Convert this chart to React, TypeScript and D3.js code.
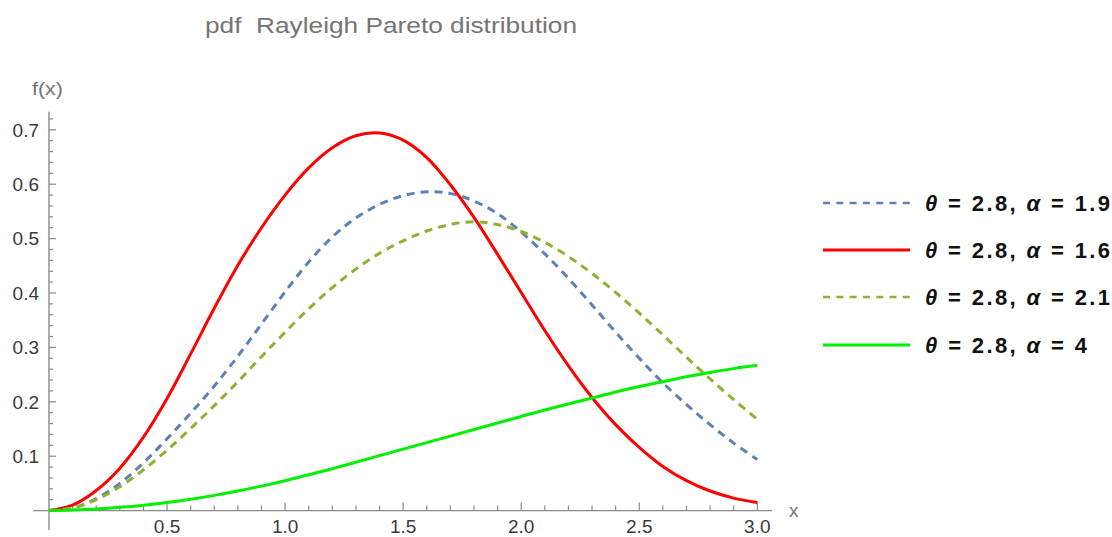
import React from "react";
import * as d3 from "d3";

const xs = [0, 0.1, 0.2, 0.3, 0.4, 0.5, 0.6, 0.7, 0.8, 0.9, 1.0, 1.1, 1.2, 1.3, 1.4, 1.5, 1.6, 1.7, 1.8, 1.9, 2.0, 2.1, 2.2, 2.3, 2.4, 2.5, 2.6, 2.7, 2.8, 2.9, 3.0];

// theta = 2.8, alpha = 1.9 (dashed blue)
const seriesA19 = [0, 0.005, 0.022, 0.050, 0.088, 0.132, 0.179, 0.229, 0.284, 0.343, 0.402, 0.457, 0.503, 0.538, 0.563, 0.579, 0.586, 0.583, 0.569, 0.546, 0.512, 0.472, 0.427, 0.378, 0.328, 0.280, 0.235, 0.195, 0.158, 0.124, 0.094];
// theta = 2.8, alpha = 1.6 (solid red)
const seriesA16 = [0, 0.010, 0.037, 0.078, 0.135, 0.206, 0.288, 0.372, 0.451, 0.520, 0.580, 0.630, 0.667, 0.689, 0.694, 0.681, 0.649, 0.599, 0.539, 0.471, 0.401, 0.331, 0.266, 0.208, 0.158, 0.116, 0.081, 0.055, 0.036, 0.023, 0.015];
// theta = 2.8, alpha = 2.1 (dashed green)
const seriesA21 = [0, 0.005, 0.020, 0.044, 0.075, 0.111, 0.151, 0.193, 0.237, 0.283, 0.328, 0.371, 0.410, 0.444, 0.473, 0.496, 0.514, 0.526, 0.531, 0.526, 0.513, 0.493, 0.467, 0.436, 0.401, 0.363, 0.323, 0.282, 0.242, 0.204, 0.168];
// theta = 2.8, alpha = 4 (solid bright green)
const seriesA4 = [0, 0.001, 0.003, 0.006, 0.010, 0.015, 0.021, 0.028, 0.036, 0.045, 0.055, 0.066, 0.077, 0.089, 0.101, 0.113, 0.125, 0.137, 0.149, 0.161, 0.173, 0.185, 0.196, 0.207, 0.218, 0.228, 0.237, 0.246, 0.254, 0.261, 0.267];

const xTickLabels = ["0.5", "1.0", "1.5", "2.0", "2.5", "3.0"];
const yTickLabels = ["0.1", "0.2", "0.3", "0.4", "0.5", "0.6", "0.7"];
const legendAlphas = ["1.9", "1.6", "2.1", "4"];
const titleText = "pdf  Rayleigh Pareto distribution";

const seriesList = [
  { values: seriesA19, color: "#5E81B5", dash: "8,6", width: 3, lw: 2.5 },
  { values: seriesA16, color: "#FF0000", dash: null, width: 3, lw: 3.2 },
  { values: seriesA21, color: "#8FB032", dash: "8,6", width: 3, lw: 2.5 },
  { values: seriesA4, color: "#00F000", dash: null, width: 3, lw: 3.2 },
];

export default function App() {
  const W = 1112, H = 537;
  const x = d3.scaleLinear().domain([0, 3]).range([49, 757.3]);
  const y = d3.scaleLinear().domain([0, 0.7]).range([510.6, 129.8]);
  const line = d3
    .line<number>()
    .x((_, i) => x(xs[i]))
    .y((v) => y(v))
    .curve(d3.curveCatmullRom.alpha(0.5));

  const axisColor = "#8a8a8a";
  const labelColor = "#3a3a3a";
  const font = "'Liberation Sans', Arial, sans-serif";

  const xMinor = d3.range(1, 31).map((i) => i / 10);
  const yMinor = d3.range(1, 37).map((i) => i / 50);

  const legendRowsY = [203, 250, 297, 345];
  const legendWidths = [185, 185, 185, 162];

  return (
    <div style={{ position: "absolute", left: 0, top: 0 }}>
      <svg width={W} height={H} style={{ display: "block", background: "#fff" }}>
        {/* title */}
        <text x={205} y={33} fontFamily={font} fontSize={22} fill="#757575" textLength={372} lengthAdjust="spacingAndGlyphs" style={{ whiteSpace: "pre" }}>
          {titleText}
        </text>

        {/* axes */}
        <line x1={33} x2={772} y1={y(0)} y2={y(0)} stroke={axisColor} strokeWidth={1.4} />
        <line x1={x(0)} x2={x(0)} y1={y(0.733)} y2={530} stroke={axisColor} strokeWidth={1.4} />

        {xMinor.map((t) => {
          const major = Math.abs(t * 2 - Math.round(t * 2)) < 1e-6;
          return (
            <line key={"xt" + t} x1={x(t)} x2={x(t)} y1={y(0)} y2={y(0) - (major ? 8 : 5)} stroke={axisColor} strokeWidth={1.2} />
          );
        })}
        {yMinor.map((t) => {
          const major = Math.abs(t * 10 - Math.round(t * 10)) < 1e-6;
          return (
            <line key={"yt" + t} x1={x(0)} x2={x(0) + (major ? 7 : 4)} y1={y(t)} y2={y(t)} stroke={axisColor} strokeWidth={1.2} />
          );
        })}

        {xTickLabels.map((s) => (
          <text key={"xl" + s} x={x(+s)} y={533} textAnchor="middle" fontFamily={font} fontSize={19} fill={labelColor}>
            {s}
          </text>
        ))}
        {yTickLabels.map((s) => (
          <text key={"yl" + s} x={39} y={y(+s)} dy="0.36em" textAnchor="end" fontFamily={font} fontSize={19} fill={labelColor}>
            {s}
          </text>
        ))}

        <text x={32} y={95} fontFamily={font} fontSize={18} fill="#757575" textLength={31} lengthAdjust="spacingAndGlyphs">
          f(x)
        </text>
        <text x={789} y={517} fontFamily={font} fontSize={19} fill="#757575">
          x
        </text>

        {/* curves */}
        {seriesList.map((s, i) => (
          <path
            key={"c" + i}
            d={line(s.values) || ""}
            fill="none"
            stroke={s.color}
            strokeWidth={s.width}
            strokeDasharray={s.dash || undefined}
            strokeLinejoin="round"
          />
        ))}

        {/* legend */}
        {seriesList.map((s, i) => (
          <g key={"lg" + i}>
            <line
              x1={823}
              x2={910}
              y1={legendRowsY[i]}
              y2={legendRowsY[i]}
              stroke={s.color}
              strokeWidth={s.lw}
              strokeDasharray={s.dash ? "7,6.3" : undefined}
            />
            <text
              x={925}
              y={legendRowsY[i]}
              dy="0.36em"
              fontFamily={font}
              fontSize={22}
              fontWeight="bold"
              fill="#111"
              textLength={legendWidths[i]}
              lengthAdjust="spacing"
            >
              <tspan fontStyle="italic">θ</tspan>
              <tspan>{" = 2.8, "}</tspan>
              <tspan fontStyle="italic">α</tspan>
              <tspan>{" = " + legendAlphas[i]}</tspan>
            </text>
          </g>
        ))}
      </svg>
    </div>
  );
}
